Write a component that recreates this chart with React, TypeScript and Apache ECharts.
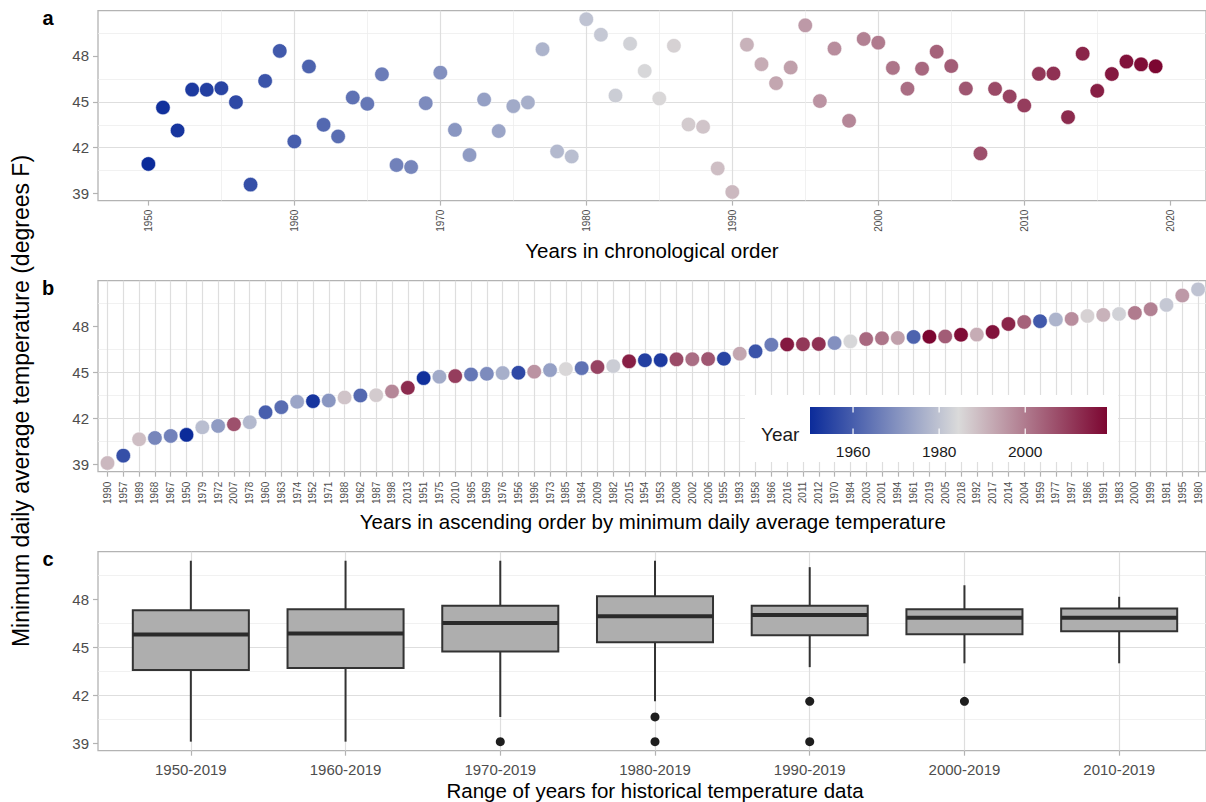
import React, { useEffect, useRef } from "react";
import * as echarts from "echarts";

// ---------- data ----------
const years: number[] = [
  1950, 1951, 1952, 1953, 1954, 1955, 1956, 1957, 1958, 1959,
  1960, 1961, 1962, 1963, 1964, 1965, 1966, 1967, 1968, 1969,
  1970, 1971, 1972, 1973, 1974, 1975, 1976, 1977, 1978, 1979,
  1980, 1981, 1982, 1983, 1984, 1985, 1986, 1987, 1988, 1989,
  1990, 1991, 1992, 1993, 1994, 1995, 1996, 1997, 1998, 1999,
  2000, 2001, 2002, 2003, 2004, 2005, 2006, 2007, 2008, 2009,
  2010, 2011, 2012, 2013, 2014, 2015, 2016, 2017, 2018, 2019,
];
const minTemps: number[] = [
  40.94, 44.63, 43.13, 45.80, 45.79, 45.89, 44.98, 39.59, 46.37, 48.33,
  42.41, 47.31, 43.50, 42.74, 45.28, 44.87, 46.80, 40.87, 40.74, 44.91,
  46.91, 43.17, 41.52, 45.15, 43.09, 44.72, 44.96, 48.44, 41.76, 41.43,
  50.40, 49.39, 45.41, 48.80, 47.02, 45.22, 48.67, 43.52, 43.37, 40.65,
  39.11, 48.74, 47.46, 46.22, 47.24, 50.00, 45.05, 48.48, 43.76, 49.11,
  48.87, 47.22, 45.86, 47.17, 48.28, 47.34, 45.87, 41.63, 45.85, 45.35,
  44.76, 46.83, 46.85, 44.00, 48.15, 45.72, 46.82, 47.63, 47.45, 47.32,
];
const yTicks: number[] = [39, 42, 45, 48];
const yearTicks: number[] = [1950, 1960, 1970, 1980, 1990, 2000, 2010, 2020];
const rangeStarts: number[] = [1950, 1960, 1970, 1980, 1990, 2000, 2010];
const rangeLabels: string[] = [
  "1950-2019", "1960-2019", "1970-2019", "1980-2019", "1990-2019", "2000-2019", "2010-2019",
];
const legendTicks: number[] = [1960, 1980, 2000];
const scaleColors: string[] = ["#0B2B9A", "#DADADA", "#7C0631"];

// ---------- derived ----------
const yMinData = Math.min(...minTemps);
const yMaxData = Math.max(...minTemps);
const yPad = (yMaxData - yMinData) * 0.05;
const yLo = yMinData - yPad;
const yHi = yMaxData + yPad;
const yrMin = Math.min(...years);
const yrMax = Math.max(...years);
const xPad = (yrMax - yrMin) * 0.05;
const xLo = yrMin - xPad;
const xHi = yrMax + xPad;

const order = years.map((_, i) => i).sort((a, b) => minTemps[a] - minTemps[b]);
const sortedYearLabels = order.map((i) => String(years[i]));
const sortedTemps = order.map((i) => minTemps[i]);
const sortedYears = order.map((i) => years[i]);

function quantile(asc: number[], p: number) {
  const h = (asc.length - 1) * p;
  const lo = Math.floor(h);
  const e = h - lo;
  return lo + 1 < asc.length ? asc[lo] + e * (asc[lo + 1] - asc[lo]) : asc[lo];
}
const boxData: number[][] = [];
const outlierData: number[][] = [];
rangeStarts.forEach((start, k) => {
  const v = years.map((y, i) => (y >= start ? minTemps[i] : NaN)).filter((x) => !isNaN(x)).sort((a, b) => a - b);
  const q1 = quantile(v, 0.25);
  const md = quantile(v, 0.5);
  const q3 = quantile(v, 0.75);
  const iqr = q3 - q1;
  const lf = q1 - 1.5 * iqr;
  const hf = q3 + 1.5 * iqr;
  const inside = v.filter((x) => x >= lf && x <= hf);
  boxData.push([k, Math.min(...inside), q1, md, q3, Math.max(...inside)]);
  v.filter((x) => x < lf || x > hf).forEach((x) => outlierData.push([k, x]));
});

// ---------- layout ----------
const FONT = "'Liberation Sans', Arial, Helvetica, sans-serif";
const PL = 98;
const PW = 1114;
const PA = { top: 10.6, height: 190 };
const PB = { top: 280.7, height: 191 };
const PC = { top: 551.7, height: 199 };
const bandB = PW / (sortedTemps.length + 0.2);
const bandC = PW / (rangeStarts.length + 0.2);

const BORDER = "#B3B3B3";
const majorLine = { color: "#DEDEDE", width: 1.2 };
const minorLine = { color: "#EEEEEE", width: 0.8 };
const majorSplit = { show: true, lineStyle: majorLine, showMinLine: false, showMaxLine: false };
const minorSplit = { show: true, lineStyle: minorLine, showMinLine: false, showMaxLine: false };
const tickStyle = { show: true, length: 5, lineStyle: { color: BORDER, width: 1.2 } };
const tickLabel = { color: "#4D4D4D", fontSize: 15, fontFamily: FONT };
const nameStyle = { fontSize: 20.5, color: "#000", fontFamily: FONT };
const plain = (v: number | string) => String(v);

const minorAxis = (gridIndex: number, min: number, max: number, step: number) => ({
  type: "value",
  gridIndex,
  min,
  max,
  minInterval: step,
  maxInterval: step,
  axisLine: { show: false },
  axisTick: { show: false },
  axisLabel: { show: false },
  splitLine: minorSplit,
});
const majorY = (gridIndex: number) => ({
  type: "value",
  gridIndex,
  min: yLo,
  max: yHi,
  minInterval: 3,
  maxInterval: 3,
  axisLine: { show: false },
  axisTick: { ...tickStyle, customValues: yTicks },
  axisLabel: { ...tickLabel, customValues: yTicks, margin: 9, formatter: plain },
  splitLine: majorSplit,
});
const hiddenY = (gridIndex: number) => ({ type: "value", gridIndex, min: yLo, max: yHi, show: false });
const hiddenX = (gridIndex: number) => ({ type: "value", gridIndex, min: 0, max: 1, show: false });

function buildOption() {
  const lgX = 810;
  const lgW = 297;
  const lgY = 407;
  const lgH = 27;
  const lgPos = (t: number) => lgX + ((t - yrMin) / (yrMax - yrMin)) * lgW;
  const gradient = new echarts.graphic.LinearGradient(0, 0, 1, 0, [
    { offset: 0, color: scaleColors[0] },
    { offset: 0.5, color: scaleColors[1] },
    { offset: 1, color: scaleColors[2] },
  ]);
  const txt = (text: string, x: number, y: number, size: number, opts: any = {}) => ({
    type: "text",
    x,
    y,
    z: 60,
    ...opts,
    style: {
      text,
      fontSize: size,
      fontFamily: FONT,
      fill: opts.fill || "#000",
      fontWeight: opts.fontWeight || "normal",
      align: opts.align || "center",
      textAlign: opts.align || "center",
      verticalAlign: "middle",
      textVerticalAlign: "middle",
    },
  });
  const graphics: any[] = [
    txt("Minimum daily average temperature (degrees F)", 21, 401, 23, { rotation: Math.PI / 2 }),
    txt("a", 48, 18, 20, { fontWeight: "bold" }),
    txt("b", 48, 288, 20, { fontWeight: "bold" }),
    txt("c", 48, 559, 20, { fontWeight: "bold" }),
    { type: "rect", z: 50, shape: { x: 745, y: 395, width: 373, height: 67 }, style: { fill: "#FFFFFF" } },
    txt("Year", 761, 434, 19, { align: "left", fill: "#1A1A1A" }),
    { type: "rect", z: 55, shape: { x: lgX, y: lgY, width: lgW, height: lgH }, style: { fill: gradient } },
  ];
  legendTicks.forEach((t) => {
    const x = lgPos(t);
    graphics.push({ type: "line", z: 56, shape: { x1: x, y1: lgY, x2: x, y2: lgY + 5.5 }, style: { stroke: "#FFFFFF", lineWidth: 1.2 } });
    graphics.push({ type: "line", z: 56, shape: { x1: x, y1: lgY + lgH - 5.5, x2: x, y2: lgY + lgH }, style: { stroke: "#FFFFFF", lineWidth: 1.2 } });
    graphics.push(txt(String(t), x, 451, 15.5, { fill: "#1A1A1A" }));
  });

  return {
    animation: false,
    backgroundColor: "#FFFFFF",
    textStyle: { fontFamily: FONT },
    grid: [
      { left: PL, top: PA.top, width: PW, height: PA.height, show: true, borderColor: BORDER, borderWidth: 1.3 },
      { left: PL, top: PB.top, width: PW, height: PB.height, show: true, borderColor: BORDER, borderWidth: 1.3 },
      { left: PL + bandB * 0.1, top: PB.top, width: bandB * sortedTemps.length, height: PB.height },
      { left: PL, top: PC.top, width: PW, height: PC.height, show: true, borderColor: BORDER, borderWidth: 1.3 },
      { left: PL + bandC * 0.1, top: PC.top, width: bandC * rangeStarts.length, height: PC.height },
    ],
    xAxis: [
      {
        type: "value",
        gridIndex: 0,
        min: xLo,
        max: xHi,
        minInterval: 10,
        maxInterval: 10,
        axisLine: { show: false },
        axisTick: { ...tickStyle, customValues: yearTicks },
        axisLabel: {
          color: "#4D4D4D",
          fontSize: 10,
          fontFamily: FONT,
          rotate: 90,
          margin: 9,
          customValues: yearTicks,
          formatter: plain,
        },
        splitLine: majorSplit,
        name: "Years in chronological order",
        nameLocation: "middle",
        nameGap: 39,
        nameTextStyle: nameStyle,
      },
      minorAxis(0, xLo + 5, xHi + 5, 10),
      hiddenX(1),
      {
        type: "category",
        gridIndex: 2,
        data: sortedYearLabels,
        boundaryGap: true,
        axisLine: { show: false },
        axisTick: { ...tickStyle, alignWithLabel: true, interval: 0 },
        axisLabel: { color: "#4D4D4D", fontSize: 10, fontFamily: FONT, rotate: 90, margin: 10, interval: 0 },
        splitLine: { show: true, alignWithLabel: true, interval: 0, lineStyle: majorLine },
        name: "Years in ascending order by minimum daily average temperature",
        nameLocation: "middle",
        nameGap: 39,
        nameTextStyle: nameStyle,
      },
      hiddenX(3),
      {
        type: "category",
        gridIndex: 4,
        data: rangeLabels,
        boundaryGap: true,
        axisLine: { show: false },
        axisTick: { ...tickStyle, alignWithLabel: true, interval: 0 },
        axisLabel: { ...tickLabel, margin: 11, interval: 0 },
        splitLine: { show: true, alignWithLabel: true, interval: 0, lineStyle: majorLine },
        name: "Range of years for historical temperature data",
        nameLocation: "middle",
        nameGap: 29,
        nameTextStyle: nameStyle,
      },
    ],
    yAxis: [
      majorY(0),
      minorAxis(0, yLo + 1.5, yHi + 1.5, 3),
      majorY(1),
      minorAxis(1, yLo + 1.5, yHi + 1.5, 3),
      hiddenY(2),
      majorY(3),
      minorAxis(3, yLo + 1.5, yHi + 1.5, 3),
      hiddenY(4),
    ],
    visualMap: [
      { type: "continuous", show: false, min: yrMin, max: yrMax, dimension: 0, seriesIndex: 0, inRange: { color: scaleColors } },
      { type: "continuous", show: false, min: yrMin, max: yrMax, dimension: 2, seriesIndex: 1, inRange: { color: scaleColors } },
    ],
    series: [
      {
        type: "scatter",
        xAxisIndex: 0,
        yAxisIndex: 0,
        symbol: "circle",
        symbolSize: 14.5,
        itemStyle: { borderColor: "rgba(255,255,255,0.7)", borderWidth: 0.8, opacity: 1 },
        data: years.map((y, i) => [y, minTemps[i]]),
        z: 5,
      },
      {
        type: "scatter",
        xAxisIndex: 3,
        yAxisIndex: 4,
        symbol: "circle",
        symbolSize: 14.5,
        itemStyle: { borderColor: "rgba(255,255,255,0.7)", borderWidth: 0.8, opacity: 1 },
        data: sortedTemps.map((v, i) => [i, v, sortedYears[i]]),
        z: 5,
      },
      {
        type: "custom",
        xAxisIndex: 5,
        yAxisIndex: 7,
        encode: { x: 0, y: [1, 2, 3, 4, 5] },
        data: boxData,
        z: 5,
        renderItem: (_params: any, api: any) => {
          const i = api.value(0);
          const lo = api.coord([i, api.value(1)]);
          const q1 = api.coord([i, api.value(2)]);
          const md = api.coord([i, api.value(3)]);
          const q3 = api.coord([i, api.value(4)]);
          const hi = api.coord([i, api.value(5)]);
          const bw = api.size([1, 0])[0] * 0.75;
          const x = md[0];
          const ls = { stroke: "#333333", lineWidth: 2 };
          return {
            type: "group",
            children: [
              { type: "line", shape: { x1: x, y1: hi[1], x2: x, y2: q3[1] }, style: ls },
              { type: "line", shape: { x1: x, y1: q1[1], x2: x, y2: lo[1] }, style: ls },
              {
                type: "rect",
                shape: { x: x - bw / 2, y: q3[1], width: bw, height: q1[1] - q3[1] },
                style: { fill: "#AEAEAE", stroke: "#333333", lineWidth: 2 },
              },
              { type: "line", shape: { x1: x - bw / 2, y1: md[1], x2: x + bw / 2, y2: md[1] }, style: { stroke: "#2A2A2A", lineWidth: 4 } },
            ],
          };
        },
      },
      {
        type: "scatter",
        xAxisIndex: 5,
        yAxisIndex: 7,
        symbol: "circle",
        symbolSize: 9,
        itemStyle: { color: "#1E1E1E", opacity: 1 },
        data: outlierData,
        z: 6,
      },
    ],
    graphic: { elements: graphics },
  };
}

export default function App() {
  const ref = useRef<HTMLDivElement>(null);
  useEffect(() => {
    if (!ref.current) return;
    const chart = echarts.init(ref.current, undefined, { renderer: "svg" });
    chart.setOption(buildOption() as any);
    return () => chart.dispose();
  }, []);
  return (
    <div
      ref={ref}
      style={{ position: "fixed", left: 0, top: 0, width: 1206, height: 802, background: "#fff" }}
    />
  );
}
